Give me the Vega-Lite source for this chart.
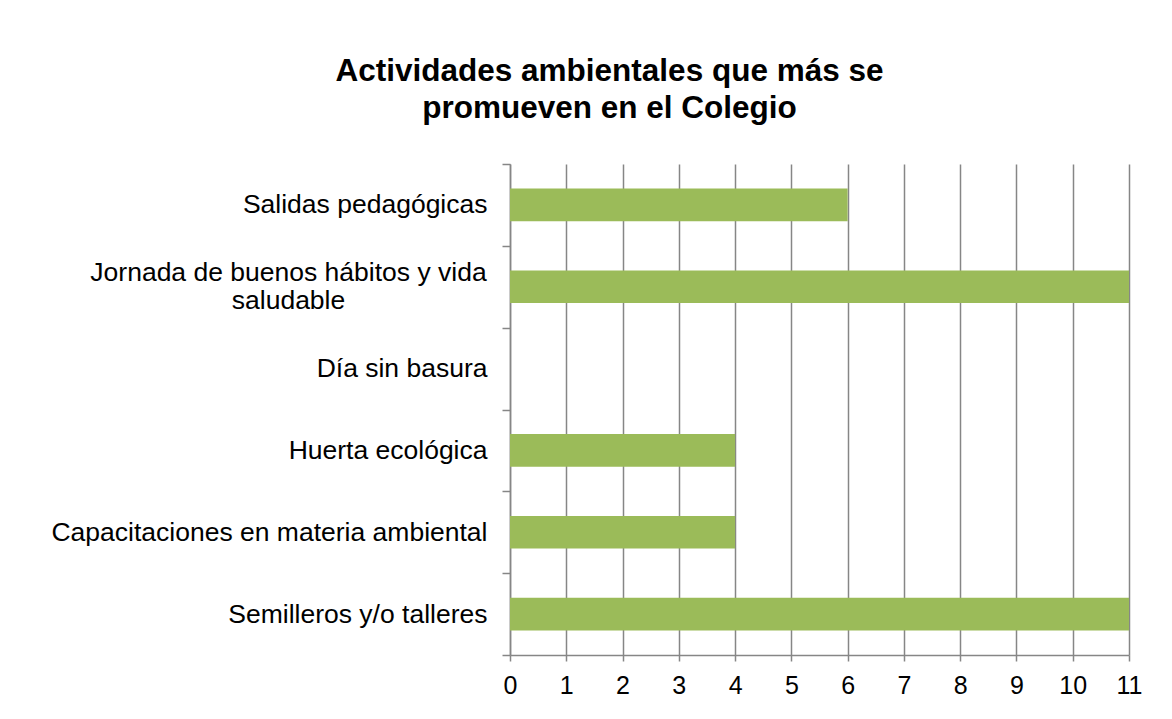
{
  "$schema": "https://vega.github.io/schema/vega-lite/v6.json",
  "width": 619,
  "height": 491,
  "autosize": {"type": "none"},
  "padding": {"left": 510, "top": 164, "right": 43, "bottom": 64},
  "background": "white",
  "title": {
    "text": ["Actividades ambientales que más se", "promueven en el Colegio"],
    "font": "Liberation Sans",
    "fontSize": 31.5,
    "fontWeight": "bold",
    "color": "#000000",
    "anchor": "middle",
    "frame": "group",
    "dx": -210,
    "offset": 27,
    "lineHeight": 37
  },
  "data": {
    "values": [
      {"actividad": "Salidas pedagógicas", "valor": 6},
      {"actividad": "Jornada de buenos hábitos y vida saludable", "valor": 11},
      {"actividad": "Día sin basura", "valor": 0},
      {"actividad": "Huerta ecológica", "valor": 4},
      {"actividad": "Capacitaciones en materia ambiental", "valor": 4},
      {"actividad": "Semilleros y/o talleres", "valor": 11}
    ]
  },
  "mark": {"type": "bar", "color": "#9BBB59", "height": {"band": 0.4}},
  "encoding": {
    "y": {
      "field": "actividad",
      "type": "nominal",
      "sort": null,
      "scale": {"paddingInner": 0, "paddingOuter": 0},
      "axis": {
        "title": null,
        "domainColor": "#868686",
        "domainWidth": 1.5,
        "tickColor": "#868686",
        "tickWidth": 1.5,
        "tickSize": 8,
        "tickBand": "extent",
        "grid": false,
        "labelFont": "Liberation Sans",
        "labelFontSize": 26.5,
        "labelColor": "#000000",
        "labelLimit": 500,
        "labelLineHeight": 28,
        "labelExpr": "datum.value == 'Jornada de buenos hábitos y vida saludable' ? ['Jornada de buenos hábitos y vida', 'saludable'] : datum.value",
        "labelAlign": {"condition": {"test": "datum.value == 'Jornada de buenos hábitos y vida saludable'", "value": "center"}, "value": "right"},
        "labelPadding": {"condition": {"test": "datum.value == 'Jornada de buenos hábitos y vida saludable'", "value": 214}, "value": 15},
        "labelOffset": {"condition": {"test": "datum.value == 'Jornada de buenos hábitos y vida saludable'", "value": -14}, "value": 0}
      }
    },
    "x": {
      "field": "valor",
      "type": "quantitative",
      "scale": {"domain": [0, 11], "nice": false},
      "axis": {
        "title": null,
        "values": [0, 1, 2, 3, 4, 5, 6, 7, 8, 9, 10, 11],
        "grid": true,
        "gridColor": "#868686",
        "gridWidth": 1.5,
        "domainColor": "#868686",
        "domainWidth": 1.5,
        "tickColor": "#868686",
        "tickWidth": 1.5,
        "tickSize": 6,
        "labelPadding": 12,
        "labelFont": "Liberation Sans",
        "labelFontSize": 25,
        "labelColor": "#000000",
        "labelFlush": false
      }
    }
  },
  "config": {"view": {"stroke": null}}
}
